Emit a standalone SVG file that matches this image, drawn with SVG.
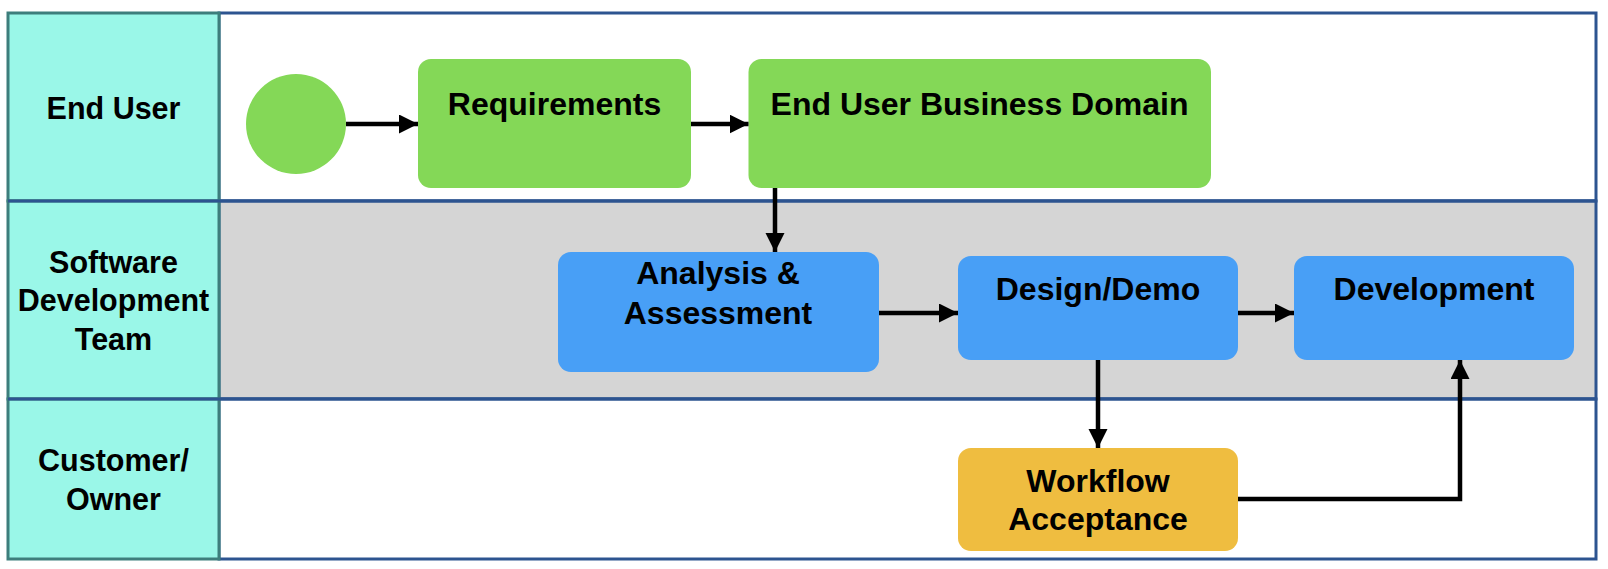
<svg xmlns="http://www.w3.org/2000/svg" width="1608" height="569" viewBox="0 0 1608 569">
<style>
.lane{stroke:#2d5490;stroke-width:3}
.hdr{fill:#9af7e8;stroke:#3d7e7c;stroke-width:3}
.lbl{font-family:"Liberation Sans",Arial,Helvetica,sans-serif;font-weight:bold;font-size:30.5px;fill:#000;text-anchor:middle}
.ntx{font-family:"Liberation Sans",Arial,Helvetica,sans-serif;font-weight:bold;font-size:32px;fill:#000;text-anchor:middle}
.green{fill:#84d857}
.blue{fill:#489ff6}
.orange{fill:#efbd40}
.conn{fill:none;stroke:#000;stroke-width:4.5}
</style>
<defs>
<marker id="ah" markerUnits="userSpaceOnUse" markerWidth="20" markerHeight="20" refX="19" refY="9.5" orient="auto">
<path d="M0,0 L19,9.5 L0,19 z" fill="#000"/>
</marker>
</defs>
<rect width="1608" height="569" fill="#fff"/>
<g id="lanes">
<rect class="lane" x="219" y="13" width="1377" height="188" fill="#fff"/>
<rect class="lane" x="219" y="201" width="1377" height="198" fill="#d5d5d5"/>
<rect class="lane" x="219" y="399" width="1377" height="160" fill="#fff"/>
<rect class="hdr" x="8" y="13" width="211" height="188"/>
<rect class="hdr" x="8" y="201" width="211" height="198"/>
<rect class="hdr" x="8" y="399" width="211" height="160"/>
<line x1="8" y1="201" x2="1596" y2="201" stroke="#2d5490" stroke-width="3"/>
<line x1="8" y1="399" x2="1596" y2="399" stroke="#2d5490" stroke-width="3"/>
<text class="lbl" x="113.5" y="118.5">End User</text>
<text class="lbl" x="113.5" y="272.5">Software</text>
<text class="lbl" x="113.5" y="311">Development</text>
<text class="lbl" x="113.5" y="349.5">Team</text>
<text class="lbl" x="113.5" y="471">Customer/</text>
<text class="lbl" x="113.5" y="510">Owner</text>
</g>
<g id="start"><circle class="green" cx="296" cy="124" r="50"/></g>
<g id="requirements"><rect class="green" x="418" y="59" width="273" height="129" rx="13"/><text class="ntx" x="554.5" y="115">Requirements</text></g>
<g id="domain"><rect class="green" x="748.5" y="59" width="462.5" height="129" rx="13"/><text class="ntx" x="979.5" y="115">End User Business Domain</text></g>
<g id="analysis"><rect class="blue" x="558" y="252" width="321" height="120" rx="13"/><text class="ntx" x="718" y="283.5">Analysis &amp;</text><text class="ntx" x="718" y="323.5">Assessment</text></g>
<g id="design"><rect class="blue" x="958" y="256" width="280" height="104" rx="13"/><text class="ntx" x="1098" y="299.5">Design/Demo</text></g>
<g id="development"><rect class="blue" x="1294" y="256" width="280" height="104" rx="13"/><text class="ntx" x="1434" y="299.5">Development</text></g>
<g id="workflow"><rect class="orange" x="958" y="448" width="280" height="103" rx="13"/><text class="ntx" x="1098" y="491.5">Workflow</text><text class="ntx" x="1098" y="530">Acceptance</text></g>
<g id="connectors">
<path class="conn" d="M346,124 H418" marker-end="url(#ah)"/>
<path class="conn" d="M691,124 H748.5" marker-end="url(#ah)"/>
<path class="conn" d="M775,188 V252" marker-end="url(#ah)"/>
<path class="conn" d="M879,313 H958" marker-end="url(#ah)"/>
<path class="conn" d="M1238,313 H1294" marker-end="url(#ah)"/>
<path class="conn" d="M1098,360 V448" marker-end="url(#ah)"/>
<path class="conn" d="M1238,499 H1460 V360" marker-end="url(#ah)"/>
</g>
</svg>
